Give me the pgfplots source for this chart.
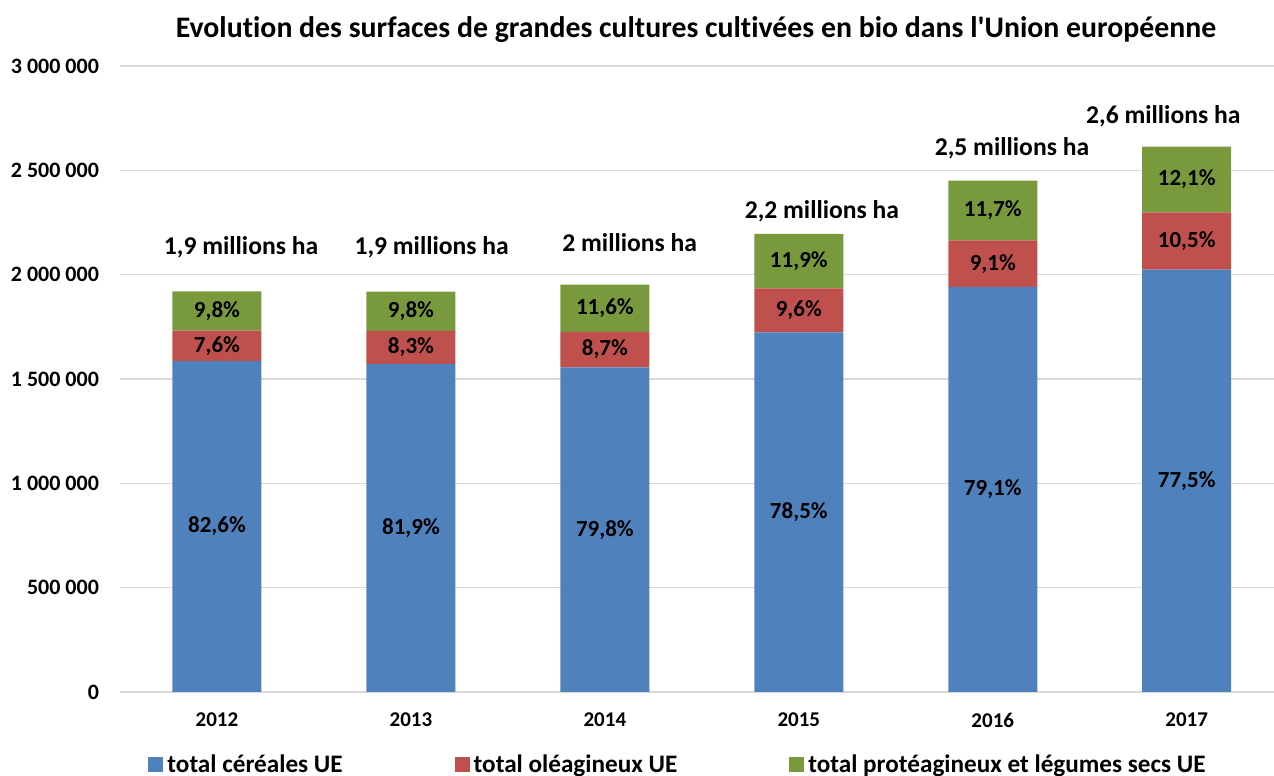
\documentclass[border=0pt]{standalone}
\usepackage{fontspec}
\setmainfont{Carlito}[Ligatures=NoCommon]
\usepackage{pgfplots}
\pgfplotsset{compat=1.18}
\usepackage{pgfplotstable}
\definecolor{cblue}{HTML}{4F81BD}
\definecolor{cred}{HTML}{C0504D}
\definecolor{cgreen}{HTML}{789A3D}
\definecolor{gridgray}{HTML}{D9D9D9}
\pgfplotsset{sqlegend/.style={legend image code/.code={\fill[##1] (0pt,-3.75pt) rectangle (7.5pt,3.75pt);}}}
\pgfplotstableread{
x cer ole pro
0 1586000 146000 188000
1 1572000 159000 188000
2 1556000 170000 226000
3 1723000 211000 261000
4 1941000 223000 287000
5 2024000 274000 316000
}\data
\begin{document}
\begin{tikzpicture}
\useasboundingbox (0,0) rectangle (637pt,388pt);
\node[font=\bfseries\fontsize{14.9}{17}\selectfont] at (348pt,373pt) {Evolution des surfaces de grandes cultures cultivées en bio dans l\textquotesingle Union européenne};
\begin{axis}[at={(60pt,42pt)}, anchor=south west, scale only axis,
  width=577pt, height=313pt,
  ybar stacked, bar width=44.5pt,
  xmin=-0.5, xmax=5.45, ymin=0, ymax=3000000,
  xtick={0,1,2,3,4,5}, xticklabels={2012,2013,2014,2015,2016,2017},
  ytick={0,500000,1000000,1500000,2000000,2500000,3000000},
  yticklabels={0,500 000,1 000 000,1 500 000,2 000 000,2 500 000,3 000 000},
  scaled y ticks=false,
  ymajorgrids, major grid style={draw=gridgray, line width=0.75pt},
  axis line style={draw=none}, major tick length=0pt,
  xticklabel style={yshift=-7pt, font=\bfseries\fontsize{10.5}{12}\selectfont},
  yticklabel style={xshift=-7pt, font=\bfseries\fontsize{11}{12}\selectfont},
  legend columns=3,
  legend style={draw=none, fill=none, inner sep=0.5pt, at={(0.4844,-0.1166)}, anchor=center,
    font=\bfseries\fontsize{12.6}{14}\selectfont,
    /tikz/every even column/.append style={column sep=54pt}},
  legend cell align=left,
]
\addplot[fill=cblue, draw=none, sqlegend] table[x=x,y=cer]{\data};
\addlegendentry{total céréales UE}
\addplot[fill=cred, draw=none, sqlegend] table[x=x,y=ole]{\data};
\addlegendentry{total oléagineux UE}
\addplot[fill=cgreen, draw=none, sqlegend] table[x=x,y=pro]{\data};
\addlegendentry{total protéagineux et légumes secs UE}
\end{axis}
\begin{axis}[at={(60pt,42pt)}, anchor=south west, scale only axis,
  width=577pt, height=313pt,
  xmin=-0.5, xmax=5.45, ymin=0, ymax=3000000, hide axis, clip=false]
\addplot[draw=none, mark=none, nodes near coords, point meta=explicit symbolic,
  every node near coord/.append style={anchor=center, text=black, font=\bfseries\fontsize{11.5}{13}\selectfont}]
coordinates {
(0,793000) [82,6\%] (0,1659000) [7,6\%] (0,1826000) [9,8\%]
(1,786000) [81,9\%] (1,1651500) [8,3\%] (1,1825000) [9,8\%]
(2,778000) [79,8\%] (2,1641000) [8,7\%] (2,1839000) [11,6\%]
(3,861500) [78,5\%] (3,1828500) [9,6\%] (3,2064500) [11,9\%]
(4,970500) [79,1\%] (4,2052500) [9,1\%] (4,2307500) [11,7\%]
(5,1012000) [77,5\%] (5,2161000) [10,5\%] (5,2456000) [12,1\%]
};
\addplot[draw=none, mark=none, nodes near coords, point meta=explicit symbolic,
  every node near coord/.append style={anchor=center, text=black, font=\bfseries\fontsize{12.8}{15}\selectfont}]
coordinates {
(0.124,2132600) [1,9 millions ha]
(1.107,2132600) [1,9 millions ha]
(2.128,2151800) [2 millions ha]
(3.119,2305100) [2,2 millions ha]
(4.099,2607000) [2,5 millions ha]
(4.879,2760400) [2,6 millions ha]
};
\end{axis}
\end{tikzpicture}
\end{document}
